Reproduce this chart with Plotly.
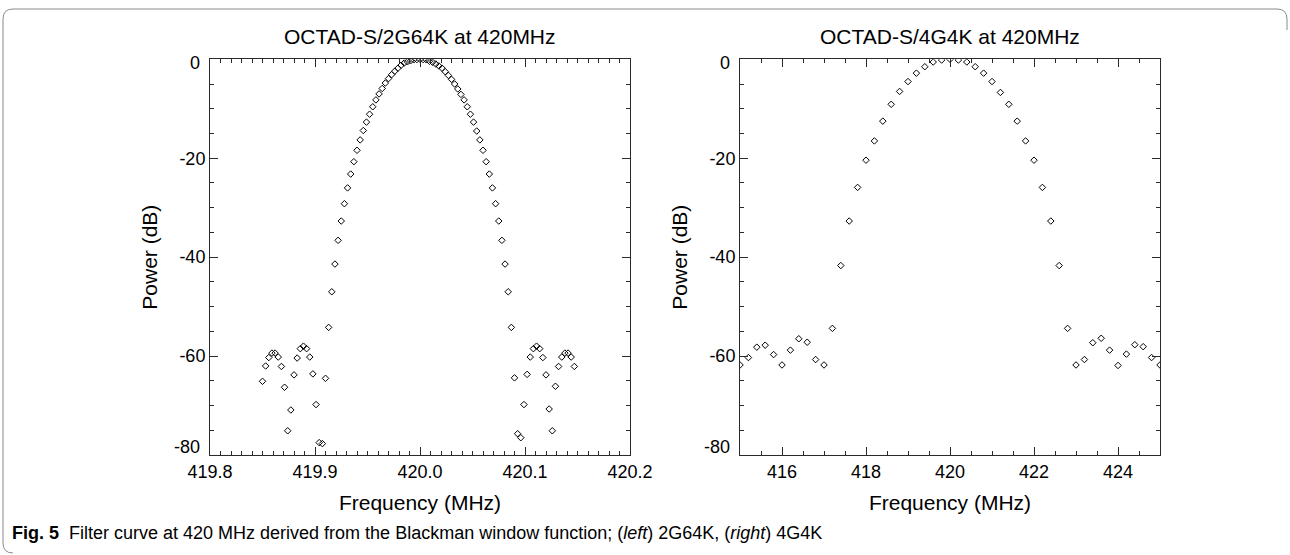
import plotly.graph_objects as go

# ---------------- data ----------------
freq_2g64k = [
    419.850, 419.853, 419.856, 419.859, 419.862, 419.865, 419.868, 419.871, 419.874, 419.877,
    419.880, 419.883, 419.886, 419.889, 419.892, 419.895, 419.898, 419.901, 419.904, 419.907,
    419.910, 419.913, 419.916, 419.919, 419.922, 419.925, 419.928, 419.931, 419.934, 419.937,
    419.940, 419.943, 419.946, 419.949, 419.952, 419.955, 419.958, 419.961, 419.964, 419.967,
    419.970, 419.973, 419.976, 419.979, 419.982, 419.985, 419.988, 419.991, 419.994, 419.997,
    420.000, 420.003, 420.006, 420.009, 420.012, 420.015, 420.018, 420.021, 420.024, 420.027,
    420.030, 420.033, 420.036, 420.039, 420.042, 420.045, 420.048, 420.051, 420.054, 420.057,
    420.060, 420.063, 420.066, 420.069, 420.072, 420.075, 420.078, 420.081, 420.084, 420.087,
    420.090, 420.093, 420.096, 420.099, 420.102, 420.105, 420.108, 420.111, 420.114, 420.117,
    420.120, 420.123, 420.126, 420.129, 420.132, 420.135, 420.138, 420.141, 420.144, 420.147,
]
power_2g64k = [
    -65.1, -62.0, -60.3, -59.4, -59.4, -60.2, -62.1, -66.3, -75.1, -70.9,
    -63.8, -60.4, -58.5, -58.0, -58.5, -60.2, -63.6, -69.8, -77.5, -77.7,
    -64.5, -54.2, -47.0, -41.4, -36.6, -32.7, -29.2, -26.0, -23.2, -20.7,
    -18.4, -16.3, -14.4, -12.7, -11.1, -9.6, -8.2, -7.0, -5.9, -4.8,
    -3.9, -3.1, -2.4, -1.8, -1.2, -0.75, -0.5, -0.3, -0.1, -0.05,
    0.0, -0.05, -0.1, -0.4, -0.6, -0.95, -1.35, -1.8, -2.5, -3.25,
    -4.05, -5.0, -6.0, -7.1, -8.2, -9.6, -11.1, -12.7, -14.5, -16.3,
    -18.4, -20.7, -23.2, -26.0, -29.2, -32.7, -36.6, -41.4, -47.0, -54.2,
    -64.4, -75.7, -76.5, -69.8, -63.7, -60.2, -58.5, -58.0, -58.5, -60.3,
    -63.8, -70.7, -75.1, -66.1, -62.1, -60.2, -59.4, -59.4, -60.2, -62.1,
]

freq_4g4k = [
    415.0, 415.2, 415.4, 415.6, 415.8, 416.0, 416.2, 416.4, 416.6, 416.8,
    417.0, 417.2, 417.4, 417.6, 417.8, 418.0, 418.2, 418.4, 418.6, 418.8,
    419.0, 419.2, 419.4, 419.6, 419.8, 420.0, 420.2, 420.4, 420.6, 420.8,
    421.0, 421.2, 421.4, 421.6, 421.8, 422.0, 422.2, 422.4, 422.6, 422.8,
    423.0, 423.2, 423.4, 423.6, 423.8, 424.0, 424.2, 424.4, 424.6, 424.8,
    425.0,
]
power_4g4k = [
    -61.8, -60.3, -58.2, -57.8, -59.7, -61.8, -58.8, -56.5, -57.2, -60.7,
    -61.8, -54.4, -41.7, -32.7, -25.9, -20.4, -16.5, -12.5, -9.1, -6.5,
    -4.5, -2.8, -1.5, -0.55, -0.15, 0.0, -0.15, -0.55, -1.5, -2.8,
    -4.5, -6.7, -9.1, -12.5, -16.5, -20.4, -25.9, -32.7, -41.7, -54.4,
    -61.8, -60.7, -57.3, -56.4, -58.8, -61.9, -59.6, -57.7, -58.1, -60.3,
    -61.8,
]

y_tickvals = [-80, -60, -40, -20, 0]
y_ticktext = ["", "-60", "-40", "-20", ""]      # end labels drawn offset, IDL style
y_end_labels = [(-80, "-80", 8), (0, "0", -4)]  # (value, text, vertical pixel shift)
x2_tickvals = [416, 418, 420, 422, 424]
x2_ticktext = ["416", "418", "420", "422", "424"]

titles = ["OCTAD-S/2G64K at 420MHz", "OCTAD-S/4G4K at 420MHz"]
x_title = "Frequency (MHz)"
y_title = "Power (dB)"
caption = ("<b>Fig. 5</b>  Filter curve at 420 MHz derived from the Blackman window "
           "function; (<i>left</i>) 2G64K, (<i>right</i>) 4G4K")

# ---------------- layout helpers ----------------
W, H = 1290, 555
def px(x):
    return x / W
def py(y):
    return 1 - y / H

AX_COLOR = "#2a2a2a"
FONT_FAMILY = "Liberation Sans, Arial, Helvetica, sans-serif"
TICK_FONT = dict(family=FONT_FAMILY, size=18, color="black")
TITLE_FONT = dict(family=FONT_FAMILY, size=21, color="black")

marker = dict(symbol="diamond-open", size=5, color="black", line=dict(width=1, color="black"))

fig = go.Figure()
fig.add_trace(go.Scatter(x=freq_2g64k, y=power_2g64k, mode="markers", marker=marker,
                         xaxis="x", yaxis="y", showlegend=False, cliponaxis=True))
fig.add_trace(go.Scatter(x=freq_4g4k, y=power_4g4k, mode="markers", marker=marker,
                         xaxis="x2", yaxis="y2", showlegend=False, cliponaxis=True))

y_dom = [py(455), py(59.3)]

common_axis = dict(
    showline=True, linecolor=AX_COLOR, linewidth=1, mirror="allticks",
    ticks="inside", ticklen=8, tickwidth=1, tickcolor=AX_COLOR,
    showgrid=False, zeroline=False, automargin=False,
    tickfont=TICK_FONT,
)

y_common = dict(range=[-80, 0], tickmode="array", tickvals=y_tickvals, ticktext=y_ticktext,
                minor=dict(dtick=5, ticks="inside", ticklen=4, tickcolor=AX_COLOR),
                title=dict(text=y_title, font=TITLE_FONT, standoff=16),
                domain=y_dom, **common_axis)

fig.update_layout(
    width=W, height=H,
    margin=dict(l=0, r=0, t=0, b=0),
    paper_bgcolor="white", plot_bgcolor="white",
    xaxis=dict(domain=[px(210), px(630)], range=[419.8, 420.2], dtick=0.1, tick0=419.8,
               tickformat=".1f", anchor="y",
               minor=dict(dtick=0.01, ticks="inside", ticklen=4, tickcolor=AX_COLOR),
               title=dict(text=x_title, font=TITLE_FONT, standoff=14),
               **common_axis),
    yaxis=dict(anchor="x", **y_common),
    xaxis2=dict(domain=[px(740), px(1160)], range=[415, 425], tickmode="array",
                tickvals=x2_tickvals, ticktext=x2_ticktext, anchor="y2",
                minor=dict(dtick=0.5, ticks="inside", ticklen=4, tickcolor=AX_COLOR),
                title=dict(text=x_title, font=TITLE_FONT, standoff=14),
                **common_axis),
    yaxis2=dict(anchor="x2", **y_common),
)

annotations = [
    dict(text=titles[0], x=px(420), y=py(36), xref="paper", yref="paper",
         showarrow=False, xanchor="center", yanchor="middle", font=TITLE_FONT),
    dict(text=titles[1], x=px(950), y=py(36), xref="paper", yref="paper",
         showarrow=False, xanchor="center", yanchor="middle", font=TITLE_FONT),
    dict(text=caption, x=px(10), y=py(533), xref="paper", yref="paper",
         showarrow=False, xanchor="left", yanchor="middle",
         font=dict(family=FONT_FAMILY, size=18, color="black")),
]
for yref, x_axis_px in (("y", 210), ("y2", 740)):
    for val, txt, shift in y_end_labels:
        annotations.append(dict(text=txt, x=px(x_axis_px - 8), y=val, xref="paper", yref=yref,
                                showarrow=False, xanchor="right", yanchor="middle",
                                yshift=shift, font=TICK_FONT))
fig.update_layout(annotations=annotations)

# outer rounded frame (caption box)
border = (f"M {px(1287)},{py(30)} L {px(1287)},{py(19)} "
          f"Q {px(1287)},{py(9)} {px(1277)},{py(9)} "
          f"L {px(13)},{py(9)} Q {px(3)},{py(9)} {px(3)},{py(19)} "
          f"L {px(3)},{py(543)} Q {px(3)},{py(553)} {px(13)},{py(553)}")
fig.add_shape(type="path", path=border, xref="paper", yref="paper",
              line=dict(color="#8a8a8a", width=1))

fig.write_html("out.html", config={"displayModeBar": False},
               post_script="document.body.style.margin='0';document.body.style.overflow='hidden';")
